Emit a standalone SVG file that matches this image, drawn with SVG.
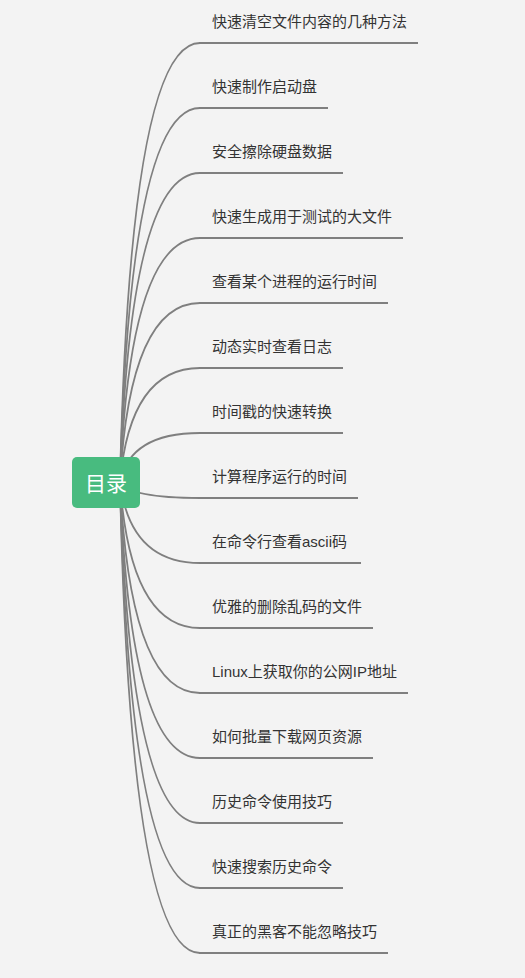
<svg xmlns="http://www.w3.org/2000/svg" width="525" height="978" viewBox="0 0 525 978">
<style>
.c{fill:none;stroke:#7f7f7f;stroke-width:1.8}
.u{fill:none;stroke:#7f7f7f;stroke-width:2.2}
.t{font-family:"Liberation Sans","Noto Sans CJK SC",sans-serif;font-size:15px;fill:#333}
.r{font-family:"Noto Sans CJK SC",sans-serif;font-size:21px;fill:#fff}
</style>
<rect width="525" height="978" fill="#f3f3f3"/>
<g id="connectors">
<path class="c" d="M120 482 Q130 43 200 43"/>
<path class="c" d="M120 482 Q130 108 200 108"/>
<path class="c" d="M120 482 Q130 173 200 173"/>
<path class="c" d="M120 482 Q130 238 200 238"/>
<path class="c" d="M120 482 Q130 303 200 303"/>
<path class="c" d="M120 482 Q130 368 200 368"/>
<path class="c" d="M120 482 Q130 433 200 433"/>
<path class="c" d="M120 482 Q130 498 200 498"/>
<path class="c" d="M120 482 Q130 563 200 563"/>
<path class="c" d="M120 482 Q130 628 200 628"/>
<path class="c" d="M120 482 Q130 693 200 693"/>
<path class="c" d="M120 482 Q130 758 200 758"/>
<path class="c" d="M120 482 Q130 823 200 823"/>
<path class="c" d="M120 482 Q130 888 200 888"/>
<path class="c" d="M120 482 Q130 953 200 953"/>
</g>
<g id="root">
<rect x="72" y="457" width="68" height="51" rx="5" fill="#48bb7f"/>
<text class="r" x="106" y="491" text-anchor="middle">目录</text>
</g>
<g id="n1"><path class="u" d="M199 43H418"/><text class="t" x="212" y="27">快速清空文件内容的几种方法</text></g>
<g id="n2"><path class="u" d="M199 108H328"/><text class="t" x="212" y="92">快速制作启动盘</text></g>
<g id="n3"><path class="u" d="M199 173H343"/><text class="t" x="212" y="157">安全擦除硬盘数据</text></g>
<g id="n4"><path class="u" d="M199 238H403"/><text class="t" x="212" y="222">快速生成用于测试的大文件</text></g>
<g id="n5"><path class="u" d="M199 303H388"/><text class="t" x="212" y="287">查看某个进程的运行时间</text></g>
<g id="n6"><path class="u" d="M199 368H343"/><text class="t" x="212" y="352">动态实时查看日志</text></g>
<g id="n7"><path class="u" d="M199 433H343"/><text class="t" x="212" y="417">时间戳的快速转换</text></g>
<g id="n8"><path class="u" d="M199 498H358"/><text class="t" x="212" y="482">计算程序运行的时间</text></g>
<g id="n9"><path class="u" d="M199 563H361"/><text class="t" x="212" y="547">在命令行查看ascii码</text></g>
<g id="n10"><path class="u" d="M199 628H373"/><text class="t" x="212" y="612">优雅的删除乱码的文件</text></g>
<g id="n11"><path class="u" d="M199 693H408"/><text class="t" x="212" y="677">Linux上获取你的公网IP地址</text></g>
<g id="n12"><path class="u" d="M199 758H373"/><text class="t" x="212" y="742">如何批量下载网页资源</text></g>
<g id="n13"><path class="u" d="M199 823H343"/><text class="t" x="212" y="807">历史命令使用技巧</text></g>
<g id="n14"><path class="u" d="M199 888H343"/><text class="t" x="212" y="872">快速搜索历史命令</text></g>
<g id="n15"><path class="u" d="M199 953H388"/><text class="t" x="212" y="937">真正的黑客不能忽略技巧</text></g>
</svg>
